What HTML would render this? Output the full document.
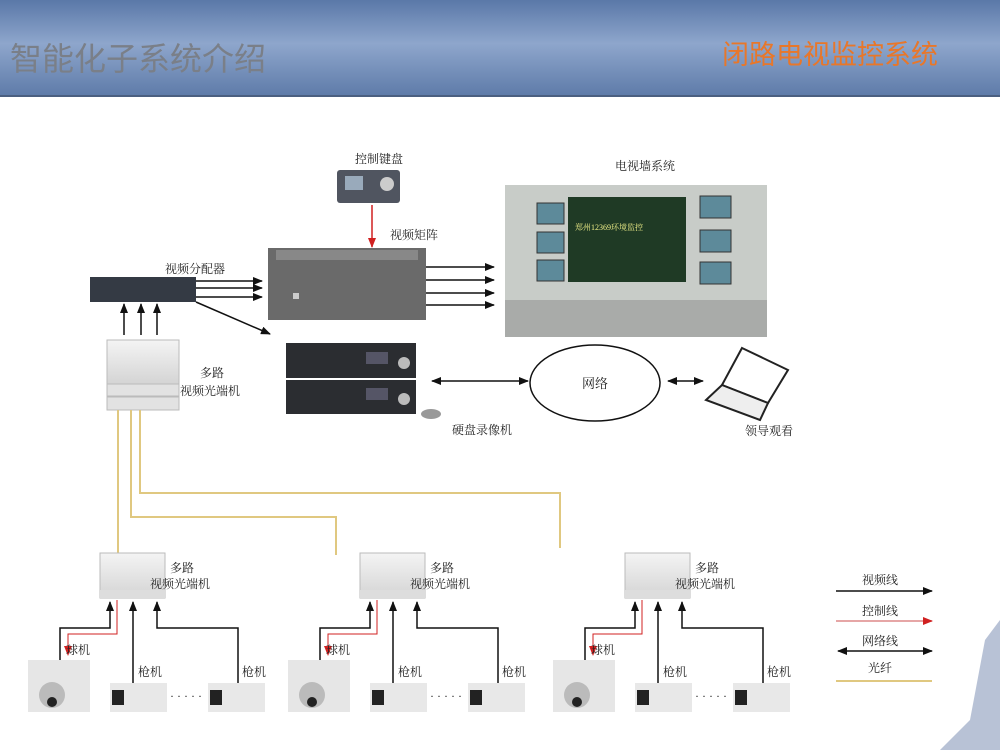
<!DOCTYPE html>
<html><head><meta charset="utf-8"><style>
body{margin:0;width:1000px;height:750px;overflow:hidden;background:#fff;font-family:"Liberation Serif","Noto Serif CJK SC",serif;}
</style></head><body>
<svg width="1000" height="750" xmlns="http://www.w3.org/2000/svg">
<defs>
<linearGradient id="hd" x1="0" y1="0" x2="0" y2="1">
<stop offset="0" stop-color="#5a78a8"/><stop offset="0.45" stop-color="#8ea6cc"/><stop offset="1" stop-color="#5d7aa8"/></linearGradient>
<marker id="ab" markerWidth="10" markerHeight="8" refX="9" refY="4" orient="auto" markerUnits="userSpaceOnUse"><path d="M0,0L10,4L0,8z" fill="#111"/></marker>
<marker id="abs" markerWidth="10" markerHeight="8" refX="1" refY="4" orient="auto" markerUnits="userSpaceOnUse"><path d="M10,0L0,4L10,8z" fill="#111"/></marker>
<marker id="ar" markerWidth="10" markerHeight="8" refX="9" refY="4" orient="auto" markerUnits="userSpaceOnUse"><path d="M0,0L10,4L0,8z" fill="#d02020"/></marker>
<linearGradient id="dev" x1="0" y1="0" x2="0" y2="1"><stop offset="0" stop-color="#f4f4f4"/><stop offset="1" stop-color="#d4d4d4"/></linearGradient>
</defs>
<rect width="1000" height="97" fill="url(#hd)"/>
<rect y="95" width="1000" height="2" fill="#4b5f80"/>
<text x="10" y="70" font-family="Liberation Sans,Noto Sans CJK SC,sans-serif" font-size="32" fill="#7a7f88">智能化子系统介绍</text>
<text x="722" y="64" font-family="Liberation Sans,Noto Sans CJK SC,sans-serif" font-size="27" fill="#e8772a">闭路电视监控系统</text>

<g font-size="12" fill="#222">
<rect x="337" y="170" width="63" height="33" rx="3" fill="#505560"/><rect x="345" y="176" width="18" height="14" fill="#9ab"/><circle cx="387" cy="184" r="7" fill="#ccc"/>
<text x="355" y="163">控制键盘</text>
<line x1="372" y1="205" x2="372" y2="247" stroke="#d02020" stroke-width="1.5" marker-end="url(#ar)"/>
<text x="390" y="239">视频矩阵</text>
<rect x="268" y="248" width="158" height="72" fill="#6a6a6a"/><rect x="276" y="250" width="142" height="10" fill="#888"/>
<rect x="293" y="293" width="6" height="6" fill="#ccc"/>
<g stroke="#111" stroke-width="1.5"><line x1="426" y1="267" x2="494" y2="267" marker-end="url(#ab)"/><line x1="426" y1="280" x2="494" y2="280" marker-end="url(#ab)"/><line x1="426" y1="293" x2="494" y2="293" marker-end="url(#ab)"/><line x1="426" y1="305" x2="494" y2="305" marker-end="url(#ab)"/></g>
<text x="615" y="170">电视墙系统</text>
<rect x="505" y="185" width="262" height="152" fill="#c8ccc8"/>
<rect x="568" y="197" width="118" height="85" fill="#1f3a25"/>
<text x="575" y="230" font-size="8" fill="#ee8">郑州12369环境监控</text>
<g fill="#5d8a9a" stroke="#333"><rect x="537" y="203" width="27" height="21"/><rect x="537" y="232" width="27" height="21"/><rect x="537" y="260" width="27" height="21"/><rect x="700" y="196" width="31" height="22"/><rect x="700" y="230" width="31" height="22"/><rect x="700" y="262" width="31" height="22"/></g>
<rect x="505" y="300" width="262" height="37" fill="#a9aba9"/>
<text x="165" y="273">视频分配器</text>
<rect x="90" y="277" width="106" height="25" fill="#343a44"/>
<g stroke="#111" stroke-width="1.5"><line x1="196" y1="281" x2="262" y2="281" marker-end="url(#ab)"/><line x1="196" y1="288" x2="262" y2="288" marker-end="url(#ab)"/><line x1="196" y1="297" x2="262" y2="297" marker-end="url(#ab)"/><line x1="196" y1="302" x2="270" y2="334" marker-end="url(#ab)"/>
<line x1="124" y1="335" x2="124" y2="304" marker-end="url(#ab)"/><line x1="141" y1="335" x2="141" y2="304" marker-end="url(#ab)"/><line x1="157" y1="335" x2="157" y2="304" marker-end="url(#ab)"/></g>
<rect x="107" y="340" width="72" height="44" fill="url(#dev)" stroke="#bbb"/><rect x="107" y="384" width="72" height="12" fill="#e2e2e2" stroke="#bbb"/><rect x="107" y="397" width="72" height="13" fill="#e2e2e2" stroke="#bbb"/>
<text x="200" y="377">多路</text><text x="180" y="395">视频光端机</text>
<rect x="286" y="343" width="130" height="35" fill="#2b2d31"/><rect x="286" y="380" width="130" height="34" fill="#2b2d31"/>
<rect x="366" y="352" width="22" height="12" fill="#556"/><rect x="366" y="388" width="22" height="12" fill="#556"/><circle cx="404" cy="363" r="6" fill="#bbb"/><circle cx="404" cy="399" r="6" fill="#bbb"/>
<ellipse cx="431" cy="414" rx="10" ry="5" fill="#999"/>
<text x="452" y="434">硬盘录像机</text>
<line x1="432" y1="381" x2="528" y2="381" stroke="#111" stroke-width="1.5" marker-start="url(#abs)" marker-end="url(#ab)"/>
<ellipse cx="595" cy="383" rx="65" ry="38" fill="#fff" stroke="#111" stroke-width="1.5"/>
<text x="582" y="388" font-size="13">网络</text>
<line x1="668" y1="381" x2="703" y2="381" stroke="#111" stroke-width="1.5" marker-start="url(#abs)" marker-end="url(#ab)"/>
<path d="M742,348L788,370L768,403L722,385z" fill="#fff" stroke="#222" stroke-width="2"/>
<path d="M722,385L768,403L760,420L706,400z" fill="#eee" stroke="#222" stroke-width="2"/>
<text x="745" y="435">领导观看</text>
<g stroke="#e0c880" stroke-width="2" fill="none"><line x1="118" y1="410" x2="118" y2="555"/><polyline points="131,410 131,517 336,517 336,555"/><polyline points="140,410 140,493 560,493 560,548"/></g>
<g id="g1">
<rect x="100" y="553" width="65" height="45" fill="url(#dev)" stroke="#bbb"/><rect x="100" y="590" width="65" height="9" fill="#ddd"/>
<text x="170" y="572">多路</text><text x="150" y="588">视频光端机</text>
<g stroke="#111" stroke-width="1.5" fill="none"><polyline points="60,660 60,628 110,628 110,602" marker-end="url(#ab)"/><line x1="133" y1="683" x2="133" y2="602" marker-end="url(#ab)"/><polyline points="238,683 238,628 157,628 157,602" marker-end="url(#ab)"/></g>
<polyline points="117,600 117,634 68,634 68,655" stroke="#d02020" stroke-width="1" fill="none" marker-end="url(#ar)"/>
<text x="66" y="654">球机</text><text x="138" y="676">枪机</text><text x="242" y="676">枪机</text>
<rect x="28" y="660" width="62" height="52" fill="#e6e6e6"/><circle cx="52" cy="695" r="13" fill="#bbb"/><circle cx="52" cy="702" r="5" fill="#222"/>
<rect x="110" y="683" width="57" height="29" fill="#e8e8e8"/><rect x="112" y="690" width="12" height="15" fill="#222"/>
<rect x="208" y="683" width="57" height="29" fill="#e8e8e8"/><rect x="210" y="690" width="12" height="15" fill="#222"/>
<text x="170" y="700" font-size="12">· · · · ·</text>
</g>
<use href="#g1" x="260"/>
<use href="#g1" x="525"/>
<text x="862" y="584">视频线</text><line x1="836" y1="591" x2="932" y2="591" stroke="#111" stroke-width="1.5" marker-end="url(#ab)"/>
<text x="862" y="615">控制线</text><line x1="836" y1="621" x2="932" y2="621" stroke="#d88" stroke-width="1.5" marker-end="url(#ar)"/>
<text x="862" y="645">网络线</text><line x1="838" y1="651" x2="932" y2="651" stroke="#111" stroke-width="1.5" marker-start="url(#abs)" marker-end="url(#ab)"/>
<text x="868" y="672">光纤</text><line x1="836" y1="681" x2="932" y2="681" stroke="#e0c880" stroke-width="2"/>
</g>
<path d="M985,640L1000,620L1000,750L940,750L970,720z" fill="#8899bb" opacity="0.6"/>
</svg>
</body></html>
